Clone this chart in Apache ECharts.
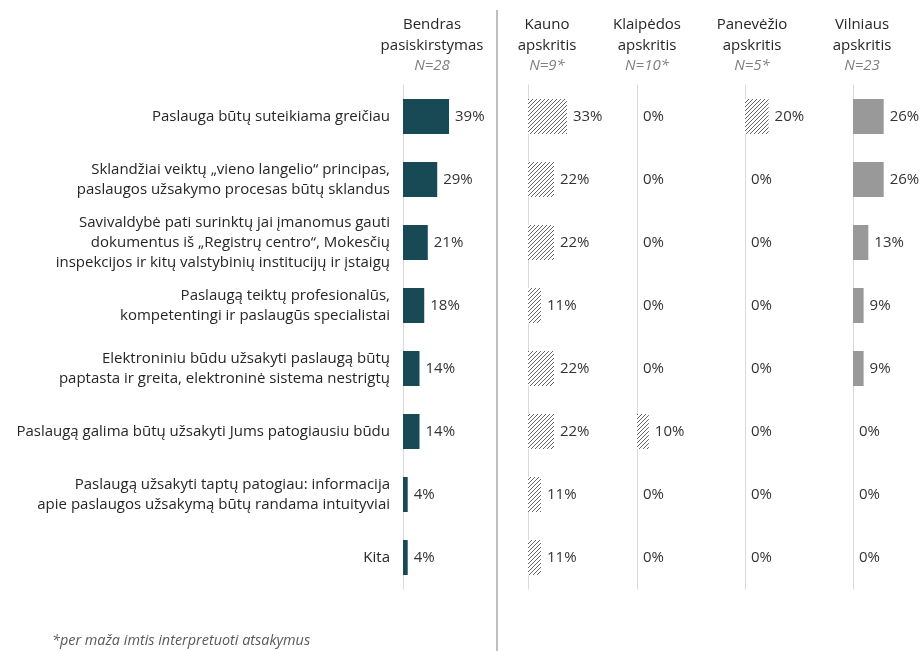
<!DOCTYPE html>
<html><head><meta charset="utf-8">
<script src="https://cdn.jsdelivr.net/npm/echarts@6/dist/echarts.min.js"></script>
<style>html,body{margin:0;padding:0;background:#fff}#c{width:920px;height:651px}</style>
</head><body><div id="c"></div>
<script>
const categories = [
  "Paslauga būtų suteikiama greičiau",
  "Sklandžiai veiktų „vieno langelio“ principas,\npaslaugos užsakymo procesas būtų sklandus",
  "Savivaldybė pati surinktų jai įmanomus gauti\ndokumentus iš „Registrų centro“, Mokesčių\ninspekcijos ir kitų valstybinių institucijų ir įstaigų",
  "Paslaugą teiktų profesionalūs,\nkompetentingi ir paslaugūs specialistai",
  "Elektroniniu būdu užsakyti paslaugą būtų\npaptasta ir greita, elektroninė sistema nestrigtų",
  "Paslaugą galima būtų užsakyti Jums patogiausiu būdu",
  "Paslaugą užsakyti taptų patogiau: informacija\napie paslaugos užsakymą būtų randama intuityviai",
  "Kita"
];
const panelTitles = ["Bendras\npasiskirstymas", "Kauno\napskritis", "Klaipėdos\napskritis", "Panevėžio\napskritis", "Vilniaus\napskritis"];
const panelN = ["N=28", "N=9*", "N=10*", "N=5*", "N=23"];
const bendras = [39, 29, 21, 18, 14, 14, 4, 4];
const kauno = [33, 22, 22, 11, 22, 22, 11, 11];
const klaipedos = [0, 0, 0, 0, 0, 10, 0, 0];
const panevezio = [20, 0, 0, 0, 0, 0, 0, 0];
const vilniaus = [26, 26, 13, 9, 9, 0, 0, 0];
const footnote = "*per maža imtis interpretuoti atsakymus";

const seriesData = [bendras, kauno, klaipedos, panevezio, vilniaus];

function hatch() {
  const cv = document.createElement('canvas');
  cv.width = 4; cv.height = 4;
  const ctx = cv.getContext('2d');
  ctx.fillStyle = '#ffffff'; ctx.fillRect(0, 0, 4, 4);
  ctx.strokeStyle = '#555555'; ctx.lineWidth = 0.9;
  ctx.beginPath();
  ctx.moveTo(0, 4); ctx.lineTo(4, 0);
  ctx.moveTo(-1, 1); ctx.lineTo(1, -1);
  ctx.moveTo(3, 5); ctx.lineTo(5, 3);
  ctx.stroke();
  return { image: cv, repeat: 'repeat' };
}
const hatchFill = hatch();
const fills = ['#174a55', hatchFill, hatchFill, hatchFill, '#999999'];

const FONT = '"Open Sans"';
const lefts = [403, 528, 637, 745, 853];
const centers = [432, 547, 647, 752, 862];
const TOP = 85, H = 504, PXPCT = 1.18, MAXV = 55;

const grids = [], xAxes = [], yAxes = [], series = [], graphics = [];
seriesData.forEach((d, i) => {
  grids.push({ left: lefts[i], top: TOP, width: MAXV * PXPCT, height: H, containLabel: false });
  xAxes.push({ gridIndex: i, type: 'value', min: 0, max: MAXV, show: false });
  yAxes.push({
    gridIndex: i, type: 'category', data: categories, inverse: true,
    axisLine: { show: true, lineStyle: { color: '#d9d9d9', width: 1 } },
    axisTick: { show: false },
    axisLabel: i === 0 ? { show: true, margin: 13, fontFamily: FONT, fontSize: 15, color: '#262626', align: 'right', lineHeight: 20 } : { show: false }
  });
  series.push({
    type: 'bar', xAxisIndex: i, yAxisIndex: i, data: d, barWidth: 35,
    itemStyle: { color: fills[i] },
    label: { show: true, position: 'right', distance: 6, formatter: '{c}%', fontFamily: FONT, fontSize: 15, color: '#333333' },
    silent: true
  });
  graphics.push({
    type: 'text', x: centers[i], y: 14,
    style: { text: panelTitles[i], fontFamily: FONT, fontSize: 15, fill: '#262626', textAlign: 'center', lineHeight: 21 }
  });
  graphics.push({
    type: 'text', x: centers[i], y: 58,
    style: { text: panelN[i], fontFamily: FONT, fontSize: 15, fontStyle: 'italic', fill: '#7f7f7f', textAlign: 'center' }
  });
});
graphics.push({ type: 'line', shape: { x1: 497, y1: 10, x2: 497, y2: 651 }, style: { stroke: '#bfbfbf', lineWidth: 2 } });
graphics.push({ type: 'text', x: 52, y: 634, style: { text: footnote, fontFamily: FONT, fontSize: 14.4, fontStyle: 'italic', fill: '#595959' } });

const chart = echarts.init(document.getElementById('c'), null, { renderer: 'canvas' });
chart.setOption({
  animation: false,
  grid: grids, xAxis: xAxes, yAxis: yAxes, series: series, graphic: graphics
});
</script></body></html>
